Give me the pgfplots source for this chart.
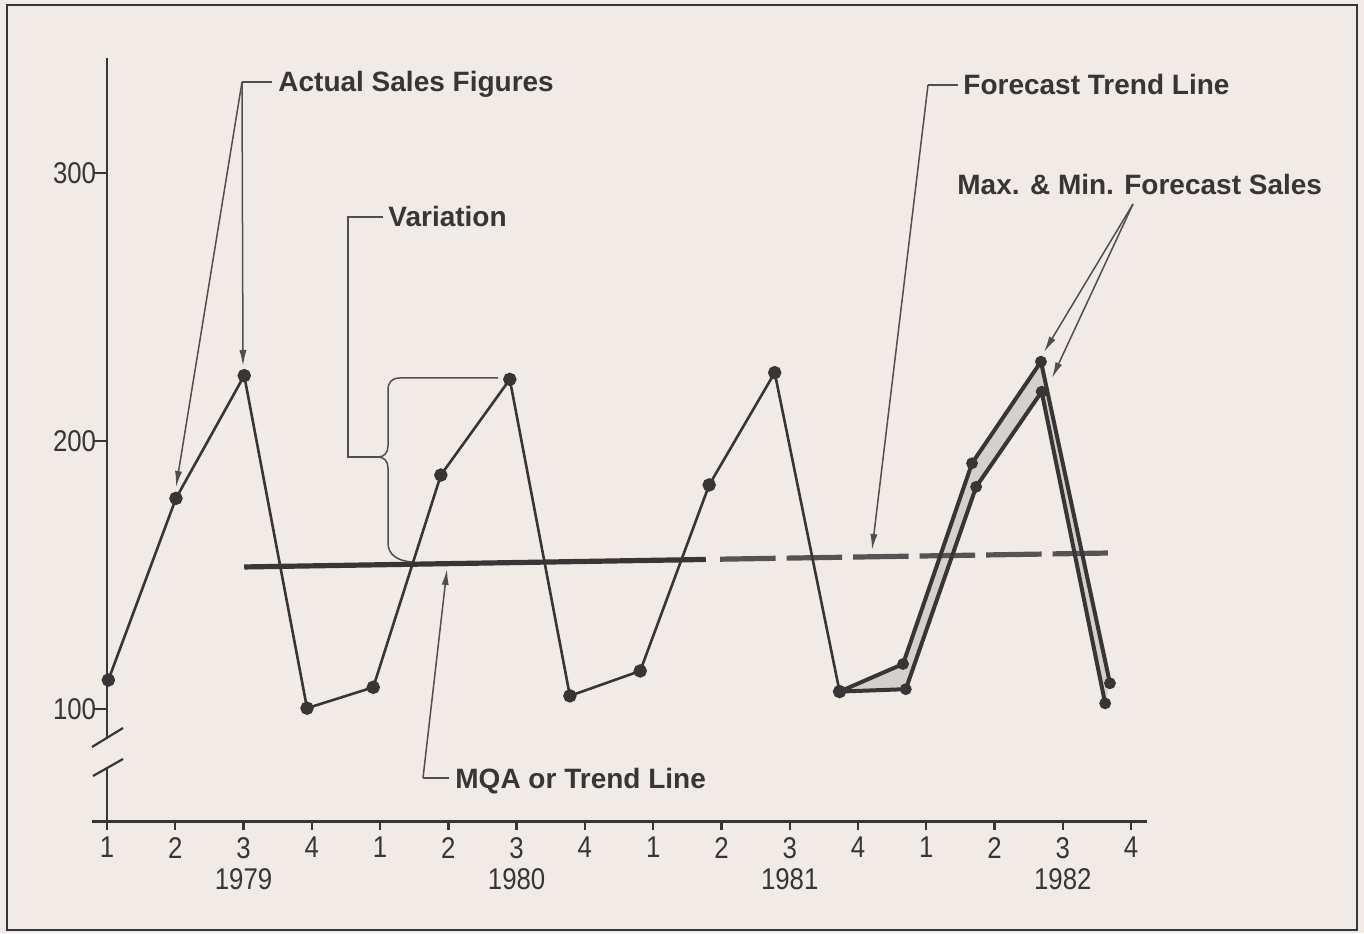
\documentclass[border=0pt]{standalone}
\usepackage{fontspec}
\setmainfont{Liberation Sans}
\newfontfamily\cond[FakeStretch=0.86]{Liberation Sans}
\usepackage{pgfplots}
\pgfplotsset{compat=1.18}
\usetikzlibrary{arrows.meta}
\definecolor{bg}{RGB}{241,235,231}
\definecolor{ink}{RGB}{55,53,53}
\definecolor{ann}{RGB}{80,78,78}
\definecolor{band}{RGB}{212,208,206}

\pgfplotstableread{
x y
0.02 110.8
1.01 178.6
2.01 224.4
2.93 100.3
3.90 108.1
4.89 187.3
5.90 223.0
6.78 104.9
7.81 114.2
8.82 183.6
9.78 225.5
10.73 106.5
}\actual

\pgfplotstableread{
x y
10.73 106.5
11.66 116.8
12.67 191.7
13.68 229.6
14.69 109.6
}\fmax

\pgfplotstableread{
x y
10.73 106.5
11.70 107.4
12.73 182.9
13.69 218.4
14.62 102.1
}\fmin

\begin{document}
\begin{tikzpicture}
\fill[bg] (0pt,0pt) rectangle (682pt,466.5pt);
\begin{axis}[
  at={(53.5pt,55.72pt)}, anchor=south west,
  scale only axis, width=519.9pt, height=381.9pt,
  xmin=0, xmax=15.23, ymin=58, ymax=343,
  axis x line*=bottom, axis y line*=left,
  x axis line style={line width=1.8pt, ink},
  y axis line style={line width=1.1pt, ink},
  tick align=outside,
  xtick={0,...,15},
  xticklabels={1,2,3,4,1,2,3,4,1,2,3,4,1,2,3,4},
  ytick={100,200,300}, yticklabels={100,200,300},
  xtick style={/pgfplots/major tick length=4pt, line width=1.2pt, ink},
  ytick style={/pgfplots/major tick length=6.5pt, line width=1.1pt, ink},
  ticklabel style={font=\cond\fontsize{15}{17}\selectfont, text=ink},
  yticklabel style={inner sep=1pt},
  extra x ticks={2,6,10,14},
  extra x tick labels={1979,1980,1981,1982},
  extra x tick style={major tick length=0pt, xticklabel style={yshift=-20pt}},
  clip=false,
]
% forecast band
\addplot[fill=band, draw=none] coordinates {
 (10.73,106.5) (11.66,116.8) (12.67,191.7) (13.68,229.6) (14.69,109.6)
 (14.62,102.1) (13.69,218.4) (12.73,182.9) (11.70,107.4) (10.73,106.5)};
% trend line
\addplot[ink, line width=2.6pt] coordinates {(2.01,153.0) (8.77,155.8)};
\addplot[ink!85, line width=2.6pt, dash pattern=on 27.75pt off 5.5pt] coordinates {(8.98,155.9) (14.66,158.2)};
% actual sales
\addplot[ink, line width=1.3pt, mark=*, mark size=2.7pt, mark options={fill=ink, draw=ink}] table {\actual};
% forecast max / min
\addplot[ink, line width=2pt, mark=*, mark size=2.7pt, mark options={fill=ink, draw=ink, line width=0.5pt}] table {\fmax};
\addplot[ink, line width=2pt, mark=*, mark size=2.7pt, mark options={fill=ink, draw=ink, line width=0.5pt}] table {\fmin};
\end{axis}

\begin{scope}[x=0.5pt, y=-0.5pt, shift={(0pt,466.5pt)}]
% frame
\draw[ink, line width=1.4pt] (7,5) rectangle (1357,930);
% x axis extension to the left
\draw[ink, line width=1.8pt] (92,821.6) -- (108,821.6);
% axis break
\fill[bg] (103,738) rectangle (114,767);
\draw[ink, line width=1.1pt] (92,747) -- (123,728);
\draw[ink, line width=1.1pt] (93,776) -- (123,759);

\tikzset{lbl/.style={anchor=base west, inner sep=0pt, text=ink, font=\bfseries\fontsize{14}{16}\selectfont},
         arr/.style={ann, line width=0.75pt, -{Latex[length=8pt,width=3.6pt]}},
         ln/.style={ann, line width=0.75pt}}

% Actual Sales Figures
\draw[ln] (272,82) -- (242,82);
\draw[arr] (242,82) -- (243,366);
\draw[arr] (242,82) -- (176,487);
\node[lbl] at (278,92) {Actual Sales Figures};

% Variation
\draw[ln] (383,217) -- (348,217) -- (348,457) -- (378,457);
\draw[ln] (498,378) -- (400,378) .. controls (392,378) and (388,382) .. (388,390) -- (388,446)
   .. controls (388,453) and (384,457) .. (378,457) .. controls (384,457) and (388,461) .. (388,468)
   -- (388,543) .. controls (388,555) and (398,561) .. (412,562);
\node[lbl] at (388,227) {Variation};

% MQA or Trend Line
\draw[ln] (449,778) -- (423,778);
\draw[arr] (423,778) -- (447,569);
\node[lbl] at (455,788) {MQA or Trend Line};

% Forecast Trend Line
\draw[ln] (958,85) -- (928,85);
\draw[arr] (928,85) -- (872,550);
\node[lbl] at (963,95) {Forecast Trend Line};

% Max & Min Forecast Sales
\draw[arr] (1133,204) -- (1044,352);
\draw[arr] (1133,204) -- (1052,378);
\node[lbl] at (957,195) {Max. \& Min. Forecast Sales};
\end{scope}
\pgfresetboundingbox
\useasboundingbox (0pt,0pt) rectangle (682pt,466.5pt);
\end{tikzpicture}
\end{document}
